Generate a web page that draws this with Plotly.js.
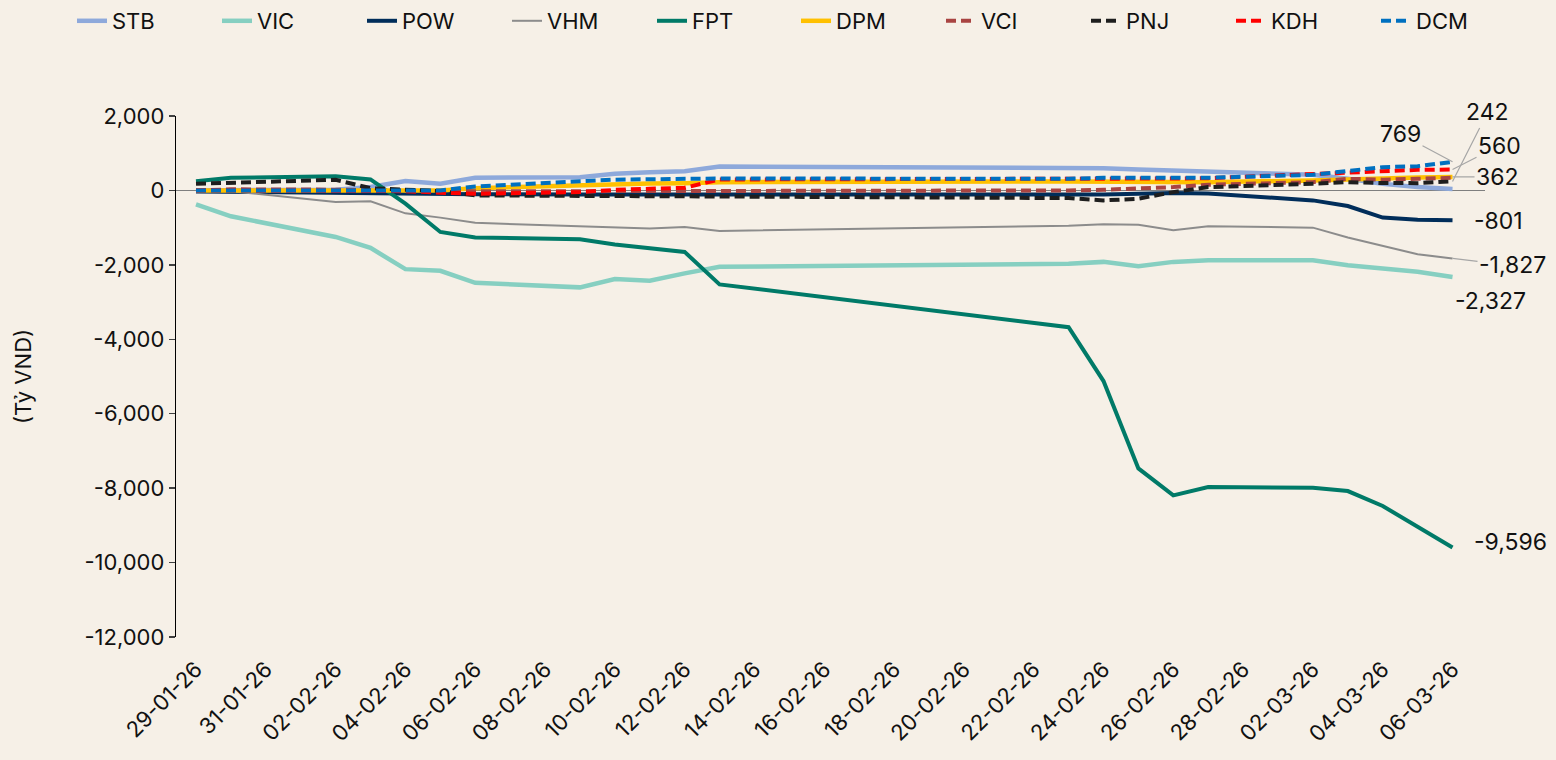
<!DOCTYPE html>
<html>
<head>
<meta charset="utf-8">
<script src="https://cdn.plot.ly/plotly-3.0.1.min.js"></script>
<style>
  html, body { margin: 0; padding: 0; background: #F6F0E7; }
  #chart { width: 1556px; height: 760px; }
</style>
</head>
<body>
<div id="chart"></div>
<script>
// ---- Data (Tỷ VND, cumulative) ----
const dates = ['2026-01-29','2026-01-30','2026-02-02','2026-02-03','2026-02-04','2026-02-05','2026-02-06',
  '2026-02-09','2026-02-10','2026-02-11','2026-02-12','2026-02-13','2026-02-23','2026-02-24','2026-02-25',
  '2026-02-26','2026-02-27','2026-03-02','2026-03-03','2026-03-04','2026-03-05','2026-03-06'];

const STB = [0, 10, 20, 90, 250, 180, 340, 357, 446, 491, 517, 643, 590, 598, 560, 530, 509, 420, 312, 178, 89, 40];
const VIC = [-375, -696, -1250, -1545, -2115, -2160, -2481, -2605, -2383, -2428, -2230, -2053, -1970, -1920, -2035, -1920, -1874, -1874, -2008, -2088, -2188, -2327];
const POW = [-30, -40, -60, -70, -80, -90, -100, -110, -110, -115, -115, -120, -120, -110, -90, -70, -80, -268, -420, -730, -785, -801];
const VHM = [-18, -20, -313, -290, -615, -731, -870, -960, -990, -1026, -982, -1090, -950, -910, -920, -1071, -964, -1000, -1267, -1490, -1714, -1827];
const FPT = [249, 340, 383, 295, -356, -1116, -1266, -1312, -1454, -1553, -1652, -2525, -3676, -5122, -7470, -8193, -7971, -7987, -8078, -8480, -9040, -9596];
const DPM = [0, 0, 0, 0, 0, 0, 60, 150, 170, 185, 196, 223, 240, 240, 235, 230, 223, 268, 300, 330, 345, 362];
const VCI = [0, 30, 20, 10, 0, -10, -20, -20, -20, -18, -18, -18, 0, 18, 40, 89, 152, 223, 312, 290, 312, 340];
const PNJ = [178, 205, 286, 60, 20, -18, -134, -150, -150, -160, -160, -152, -205, -268, -223, -45, 89, 178, 223, 200, 196, 242];
const KDH = [0, 0, 0, 0, -20, -62, -89, -45, 15, 45, 71, 294, 300, 300, 310, 320, 330, 446, 491, 535, 553, 560];
const DCM = [0, 0, 0, 0, 0, 0, 107, 250, 290, 300, 303, 321, 312, 340, 340, 340, 340, 420, 535, 625, 651, 769];

const yTickVals = [2000, 0, -2000, -4000, -6000, -8000, -10000, -12000];
const yTickText = ['2,000', '0', '-2,000', '-4,000', '-6,000', '-8,000', '-10,000', '-12,000'];

// ---- Styling ----
const series = [
  {name: 'STB', y: STB, color: '#8EA9DB', width: 4.5, dash: 'solid',    legend: 'legend'},
  {name: 'VIC', y: VIC, color: '#86CFC1', width: 4.5, dash: 'solid',    legend: 'legend'},
  {name: 'POW', y: POW, color: '#002D5A', width: 4,   dash: 'solid',    legend: 'legend'},
  {name: 'VHM', y: VHM, color: '#8C8C8C', width: 2,   dash: 'solid',    legend: 'legend'},
  {name: 'FPT', y: FPT, color: '#007A68', width: 4,   dash: 'solid',    legend: 'legend'},
  {name: 'DPM', y: DPM, color: '#FFC000', width: 4.5, dash: 'solid',    legend: 'legend2'},
  {name: 'VCI', y: VCI, color: '#A94442', width: 4,   dash: '10px,5px', legend: 'legend2'},
  {name: 'PNJ', y: PNJ, color: '#1E1E1E', width: 4,   dash: '10px,5px', legend: 'legend2'},
  {name: 'KDH', y: KDH, color: '#FF0000', width: 4,   dash: '10px,5px', legend: 'legend2'},
  {name: 'DCM', y: DCM, color: '#0070C0', width: 4,   dash: '10px,5px', legend: 'legend2'}
];

const traces = series.map(s => ({
  type: 'scatter', mode: 'lines', name: s.name, x: dates, y: s.y,
  line: {color: s.color, width: s.width, dash: s.dash},
  legend: s.legend,
  hoverinfo: 'x+y+name'
}));

const lastX = dates[dates.length - 1];
const fmt = v => v.toLocaleString('en-US');
function endVal(arr) { return arr[arr.length - 1]; }

// end labels: leader lines for the crowded positive ones
const labelSpecs = [
  {s: PNJ, leader: true,  dx: 35,  dy: -69},
  {s: DCM, leader: true,  dx: -52, dy: -28},
  {s: KDH, leader: true,  dx: 47,  dy: -24},
  {s: DPM, leader: true,  dx: 45,  dy: 0},
  {s: VHM, leader: true,  dx: 60,  dy: 7},
  {s: POW, leader: false, dx: 46,  dy: 1},
  {s: VIC, leader: false, dx: 38,  dy: 24},
  {s: FPT, leader: false, dx: 58,  dy: -6}
];
const annotations = labelSpecs.map(l => {
  const a = {
    x: lastX, y: endVal(l.s), xref: 'x', yref: 'y',
    text: fmt(endVal(l.s)),
    font: {family: 'Inter, Roboto, sans-serif', size: 23, color: '#111111'}
  };
  if (l.leader) {
    Object.assign(a, {showarrow: true, arrowhead: 0, arrowwidth: 1.2, arrowcolor: '#A6A6A6',
      ax: l.dx, ay: l.dy, standoff: 0});
  } else {
    Object.assign(a, {showarrow: false, xshift: l.dx, yshift: -l.dy});
  }
  return a;
});

const legendBase = {
  orientation: 'h', xref: 'container', yref: 'container',
  y: 1, xanchor: 'left', yanchor: 'top',
  font: {size: 22, color: '#111111'}, bgcolor: 'rgba(0,0,0,0)',
  entrywidth: 100, entrywidthmode: 'pixels', traceorder: 'normal'
};

const layout = {
  width: 1556, height: 760,
  paper_bgcolor: '#F6F0E7', plot_bgcolor: '#F6F0E7',
  font: {family: 'Inter, Roboto, sans-serif', size: 22, color: '#111111'},
  margin: {l: 176, r: 71, t: 116, b: 123},
  showlegend: true,
  legend: Object.assign({}, legendBase, {x: 72 / 1556}),
  legend2: Object.assign({}, legendBase, {x: 796 / 1556}),
  xaxis: {
    type: 'date',
    range: ['2026-01-28 10:15', '2026-03-06 22:20'],
    tick0: '2026-01-29', dtick: 2 * 86400000,
    tickformat: '%d-%m-%y', tickangle: -45,
    tickfont: {size: 22},
    ticklabelstandoff: 14,
    showgrid: false, zeroline: false, showline: false, ticks: '',
    fixedrange: true
  },
  yaxis: {
    range: [-12000, 2000],
    tickvals: yTickVals, ticktext: yTickText,
    tickfont: {size: 22},
    showgrid: false,
    zeroline: true, zerolinecolor: '#7F7F7F', zerolinewidth: 1.3,
    showline: true, linecolor: '#000000', linewidth: 1.3,
    ticks: 'outside', ticklen: 6, tickcolor: '#404040', tickwidth: 1.3,
    title: {text: '(Tỷ VND)', font: {size: 22}, standoff: 46},
    fixedrange: true
  },
  annotations: annotations
};

Plotly.newPlot('chart', traces, layout, {displayModeBar: false, staticPlot: true});
</script>
</body>
</html>
